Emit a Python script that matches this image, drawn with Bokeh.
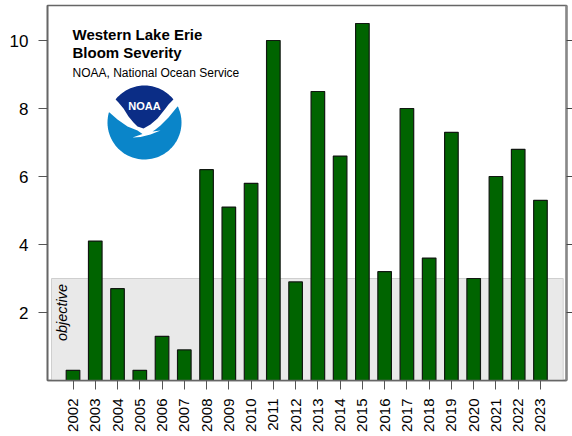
import numpy as np
from bokeh.plotting import figure
from bokeh.models import LinearAxis, FixedTicker, ColumnDataSource
from bokeh.core.properties import value
from bokeh.embed import file_html
from bokeh.resources import INLINE

years = list(range(2002, 2024))
severity = [0.3, 4.1, 2.7, 0.3, 1.3, 0.9, 6.2, 5.1, 5.8, 10.0, 2.9, 8.5, 6.6, 10.5, 3.2, 8.0, 3.6, 7.3, 3.0, 6.0, 6.8, 5.3]
y_ticks = [2, 4, 6, 8, 10]
objective = 3.0
FONT = "Liberation Sans"

W, H = 572, 436
L, R, T, B = 47, 566, 5, 380
x0, x1 = 2002 - 1.146, 2023 + 1.17
y0, y1 = 0.0, 11.03

def px(x):
    return x0 + (np.asarray(x, float) - L) * (x1 - x0) / (R - L)

def py(y):
    return y0 + (B - np.asarray(y, float)) * (y1 - y0) / (B - T)

p = figure(width=W, height=H, output_backend="svg", toolbar_location=None,
           x_range=(x0, x1), y_range=(y0, y1),
           min_border_left=L, min_border_right=W - R, min_border_top=T, min_border_bottom=H - B,
           x_axis_location="below", y_axis_location="left",
           margin=(0, 0, 0, 0))
p.background_fill_color = "white"
p.border_fill_color = "white"
p.grid.visible = False
p.outline_line_color = "#666666"
p.outline_line_width = 1.6

# objective band
p.quad(left=[float(px(51))], right=[float(px(562.7))], bottom=[y0], top=[objective],
       fill_color="#E9E9E9", line_color="#CFCFCF", line_width=1)

src = ColumnDataSource(dict(year=years, sev=severity))
p.vbar(x="year", top="sev", bottom=0, width=0.61, source=src,
       fill_color="#006400", line_color="#111811", line_width=1.2)

xa = p.xaxis[0]
xa.ticker = FixedTicker(ticks=years)
xa.major_label_overrides = {y: str(y) for y in years}
xa.major_label_orientation = np.pi / 2
xa.major_label_text_font = FONT
xa.major_label_text_font_size = "15px"
xa.major_label_text_color = "black"
xa.major_label_standoff = 9
xa.major_tick_out = 9
xa.major_tick_in = 0
xa.minor_tick_line_color = None
xa.axis_line_color = "#666666"
xa.axis_line_width = 1.6
xa.major_tick_line_color = "#555555"

ya = p.yaxis[0]
ya.ticker = FixedTicker(ticks=y_ticks)
ya.major_label_orientation = "horizontal"
ya.major_label_text_font = FONT
ya.major_label_text_font_size = "17px"
ya.major_label_text_color = "black"
ya.major_label_standoff = 10
ya.major_tick_out = 9
ya.major_tick_in = 0
ya.minor_tick_line_color = None
ya.axis_line_color = "#666666"
ya.axis_line_width = 1.6
ya.major_tick_line_color = "#555555"

ra = LinearAxis(ticker=FixedTicker(ticks=y_ticks), major_label_overrides={t: "" for t in y_ticks},
                major_tick_out=6, major_tick_in=0, minor_tick_line_color=None,
                axis_line_color="#888888", axis_line_width=2.4, major_tick_line_color="#444444")
p.add_layout(ra, "right")

def label(x, y, s, size, style="normal", angle=0.0, align="left", base="alphabetic", color="black", font=FONT):
    p.text(x=[float(px(x))], y=[float(py(y))], text=[s], text_font=value(font),
           text_font_size=value(size), text_font_style=style, angle=angle,
           text_align=align, text_baseline=base, text_color=color)

label(72, 34, "Western Lake Erie", "15px", "bold")
label(72, 52, "Bloom Severity", "15px", "bold")
label(72, 72, "NOAA, National Ocean Service", "12px")
label(61, 312, "objective", "14.5px", "italic", angle=np.pi / 2, align="center", base="middle")

# NOAA logo
cx, cy, r = 144.0, 122.0, 37.0
t = np.linspace(0, 2 * np.pi, 120)
p.patch(px(cx + r * np.cos(t)), py(cy + r * np.sin(t)), fill_color="#0A85C9", line_color=None)

white_x = [100, 100, 188, 188, 177, 168, 160, 155, 152, 160, 150, 140, 132, 142, 137, 127, 117, 109, 100]
white_y = [112, 84, 84, 105, 106, 117, 125, 129, 131, 130, 134, 136.5, 137, 133.5, 130, 126, 119, 112, 108]
p.patch(px(white_x), py(white_y), fill_color="white", line_color=None)

a0 = np.arctan2(-24, -30)
a1 = np.arctan2(-24, 30)
arc = np.linspace(a0, a1, 40)
nx = list(cx + r * np.cos(arc)) + [168, 165, 157, 150, 143, 137, 133, 128, 123, 118]
ny = list(cy + r * np.sin(arc)) + [104, 108, 118, 124, 128, 126, 122, 116, 108, 102]
p.patch(px(nx), py(ny), fill_color="#0B2D86", line_color=None)
label(144, 105, "NOAA", "11px", "bold", align="center", base="middle", color="white", font=FONT)

open("out.html", "w").write(file_html(p, INLINE))
